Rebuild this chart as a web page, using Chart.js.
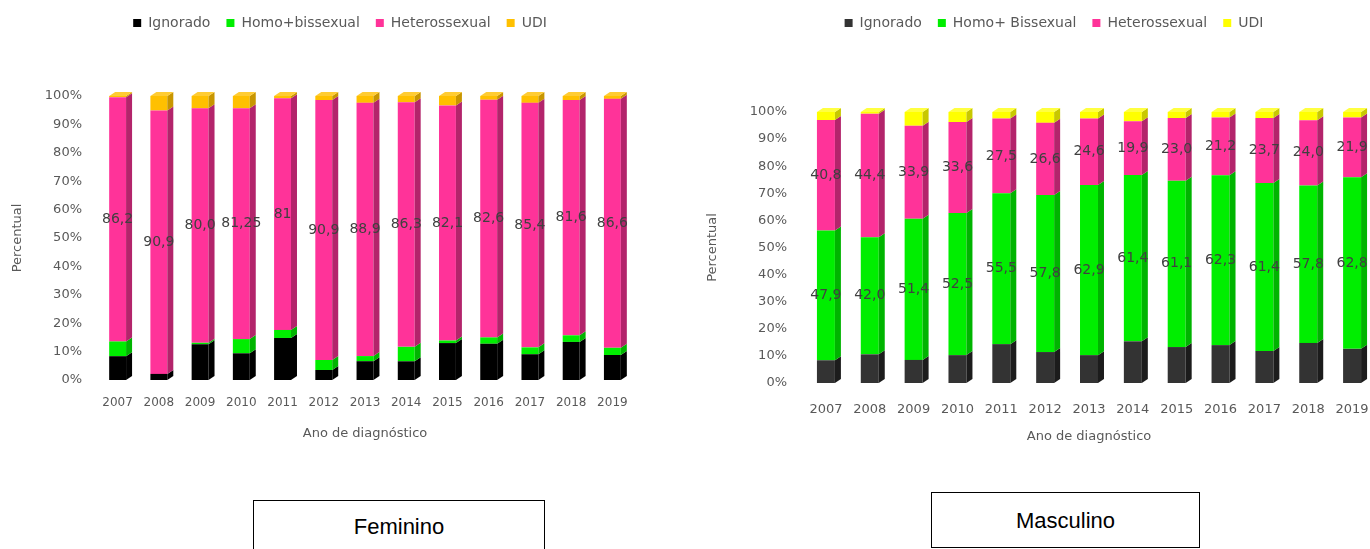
<!DOCTYPE html>
<html>
<head>
<meta charset="utf-8">
<script src="https://cdn.jsdelivr.net/npm/chart.js"></script>
<style>
  html, body { margin: 0; padding: 0; background: #fff; overflow: hidden; }
  body { width: 1370px; height: 549px; position: relative; }
  canvas { position: absolute; top: 0; }
  #cFem { left: 0; }
  #cMas { left: 695px; }
  .caixa { position: absolute; box-sizing: border-box; border: 1.5px solid #000; text-align: center;
           font: 22px "Liberation Sans", Arial, sans-serif; color: #000; }
</style>
</head>
<body>
<canvas id="cFem" width="680" height="460"></canvas>
<canvas id="cMas" width="700" height="460"></canvas>
<div class="caixa" style="left:253px; top:500px; width:292px; height:60px; line-height:52px;">Feminino</div>
<div class="caixa" style="left:931px; top:492px; width:269px; height:56px; line-height:55px;">Masculino</div>
<script>
// dados (percentuais por ano de diagnóstico)
const anos = ['2007', '2008', '2009', '2010', '2011', '2012', '2013', '2014', '2015', '2016', '2017', '2018', '2019'];

// Feminino
const femIgnorado = [8.4, 2.1, 12.2, 9.4, 14.7, 3.5, 6.6, 6.6, 12.9, 12.6, 9.0, 13.2, 8.7];
const femHomoBi = [5.2, 0, 0.5, 5.0, 2.8, 3.5, 1.8, 5.1, 0.9, 2.2, 2.4, 2.3, 2.5];
const femHetero = ['86,2', '90,9', '80,0', '81,25', '81', '90,9', '88,9', '86,3', '82,1', '82,6', '85,4', '81,6', '86,6'];
const femUDI = [0.4, 5.0, 4.2, 4.3, 0.8, 1.4, 2.4, 2.2, 3.3, 1.3, 2.4, 1.4, 1.0];

// Masculino
const masIgnorado = [8.4, 10.3, 8.4, 10.3, 14.3, 11.4, 10.3, 15.4, 13.2, 13.9, 11.7, 14.7, 12.5];
const masHomoBi = ['47,9', '42,0', '51,4', '52,5', '55,5', '57,8', '62,9', '61,4', '61,1', '62,3', '61,4', '57,8', '62,8'];
const masHetero = ['40,8', '44,4', '33,9', '33,6', '27,5', '26,6', '24,6', '19,9', '23,0', '21,2', '23,7', '24,0', '21,9'];
const masUDI = [3.0, 0.6, 5.0, 3.7, 2.4, 4.0, 2.4, 3.4, 2.2, 2.0, 2.2, 3.0, 2.0];

const fonte = 'DejaVu Sans';
const cinza = '#595959';

function num(v) {
    return typeof v === 'string' ? parseFloat(v.replace(',', '.')) : v;
}

// barras com efeito 3D (lateral e topo) + rótulos no centro do segmento
const efeito3d = {
    id: 'efeito3d',
    afterLayout(chart, args, opts) {
        chart.legend.left += opts.deslocaLegenda;
        chart.legend.right += opts.deslocaLegenda;
    },
    afterDatasetsDraw(chart, args, opts) {
        const ctx = chart.ctx;
        const dx = opts.dx, dy = opts.dy;
        const sets = chart.data.datasets;
        ctx.save();
        sets.forEach((ds, i) => {
            chart.getDatasetMeta(i).data.forEach((bar, j) => {
                const p = bar.getProps(['x', 'y', 'base', 'width'], true);
                const top = Math.min(p.y, p.base), bottom = Math.max(p.y, p.base);
                if (bottom - top < 0.3) return;
                const left = p.x - p.width / 2, right = p.x + p.width / 2;
                ctx.fillStyle = ds.corLado;
                ctx.beginPath();
                ctx.moveTo(right, bottom);
                ctx.lineTo(right, top);
                ctx.lineTo(right + dx, top - dy);
                ctx.lineTo(right + dx, bottom - dy);
                ctx.closePath();
                ctx.fill();
                const acima = sets.slice(i + 1).some(d => d.data[j] > 0.05);
                if (!acima) {
                    ctx.fillStyle = ds.corTopo;
                    ctx.beginPath();
                    ctx.moveTo(left, top);
                    ctx.lineTo(left + dx, top - dy);
                    ctx.lineTo(right + dx, top - dy);
                    ctx.lineTo(right, top);
                    ctx.closePath();
                    ctx.fill();
                }
            });
        });
        ctx.font = '14px "' + fonte + '"';
        ctx.fillStyle = '#404040';
        ctx.textAlign = 'center';
        ctx.textBaseline = 'middle';
        sets.forEach((ds, i) => {
            if (!ds.textos) return;
            chart.getDatasetMeta(i).data.forEach((bar, j) => {
                const p = bar.getProps(['x', 'y', 'base'], true);
                ctx.fillText(ds.textos[j], p.x, (p.y + p.base) / 2);
            });
        });
        ctx.restore();
    }
};

function grafico(id, series, cfg) {
    // 100% empilhado, como no Excel
    const totais = anos.map((a, j) => series.reduce((s, se) => s + num(se.valores[j]), 0));
    return new Chart(document.getElementById(id), {
        type: 'bar',
        data: {
            labels: anos,
            datasets: series.map(se => ({
                label: se.nome,
                data: se.valores.map((v, j) => num(v) / totais[j] * 100),
                textos: se.rotulos ? se.valores : null,
                backgroundColor: se.cor,
                corLado: se.lado,
                corTopo: se.topo,
                borderWidth: 0,
                barPercentage: 0.41,
                categoryPercentage: 1
            }))
        },
        plugins: [efeito3d, {
            id: 'espacoLegenda',
            beforeInit(chart) {
                const fit = chart.legend.fit;
                chart.legend.fit = function () {
                    fit.call(this);
                    this.height += cfg.espaco;
                };
            }
        }],
        options: {
            responsive: false,
            animation: false,
            layout: { padding: { left: 5, right: cfg.padDir, top: 0, bottom: cfg.padBaixo } },
            plugins: {
                tooltip: { enabled: false },
                legend: {
                    position: 'top',
                    labels: {
                        boxWidth: 8,
                        boxHeight: 8,
                        padding: 16,
                        color: cinza,
                        font: { family: fonte, size: 14 }
                    }
                },
                efeito3d: { dx: 6, dy: 4, deslocaLegenda: cfg.deslocaLegenda }
            },
            scales: {
                x: {
                    stacked: true,
                    grid: { display: false, drawTicks: false },
                    border: { display: false },
                    ticks: { color: cinza, padding: cfg.padX, font: { family: fonte, size: cfg.fonteX } },
                    title: { display: true, text: 'Ano de diagnóstico', color: cinza, padding: 0, font: { family: fonte, size: 13 } },
                    afterFit: s => { s.height = cfg.alturaX; }
                },
                y: {
                    stacked: true,
                    min: 0,
                    max: 100,
                    grid: { display: false, drawTicks: false },
                    border: { display: false },
                    ticks: {
                        stepSize: 10,
                        color: cinza,
                        padding: cfg.padY,
                        font: { family: fonte, size: 13 },
                        callback: v => v + '%'
                    },
                    title: { display: true, text: 'Percentual', color: cinza, padding: { top: 5, bottom: 0 }, font: { family: fonte, size: 13 } },
                    afterFit: s => { s.width = cfg.larguraY; }
                }
            }
        }
    });
}

grafico('cFem', [
    { nome: 'Ignorado', valores: femIgnorado, cor: '#000000', lado: '#000000', topo: '#1a1a1a' },
    { nome: 'Homo+bissexual', valores: femHomoBi, cor: '#00ee00', lado: '#00b400', topo: '#40ff40' },
    { nome: 'Heterossexual', valores: femHetero, cor: '#ff3399', lado: '#b3246b', topo: '#ff66b3', rotulos: true },
    { nome: 'UDI', valores: femUDI, cor: '#ffc000', lado: '#c89600', topo: '#ffcc33' }
], { espaco: 56, padDir: 47, padBaixo: 19, alturaX: 61, larguraY: 92, padY: 15, padX: 16, fonteX: 12, deslocaLegenda: 21 });

grafico('cMas', [
    { nome: 'Ignorado', valores: masIgnorado, cor: '#333333', lado: '#1c1c1c', topo: '#4a4a4a' },
    { nome: 'Homo+ Bissexual', valores: masHomoBi, cor: '#00ee00', lado: '#00b400', topo: '#40ff40', rotulos: true },
    { nome: 'Heterossexual', valores: masHetero, cor: '#ff3399', lado: '#b3246b', topo: '#ff66b3', rotulos: true },
    { nome: 'UDI', valores: masUDI, cor: '#ffff00', lado: '#c8c800', topo: '#ffff40' }
], { espaco: 72, padDir: 21, padBaixo: 16, alturaX: 61, larguraY: 104, padY: 17, padX: 19, fonteX: 13, deslocaLegenda: 17 });
</script>
</body>
</html>
